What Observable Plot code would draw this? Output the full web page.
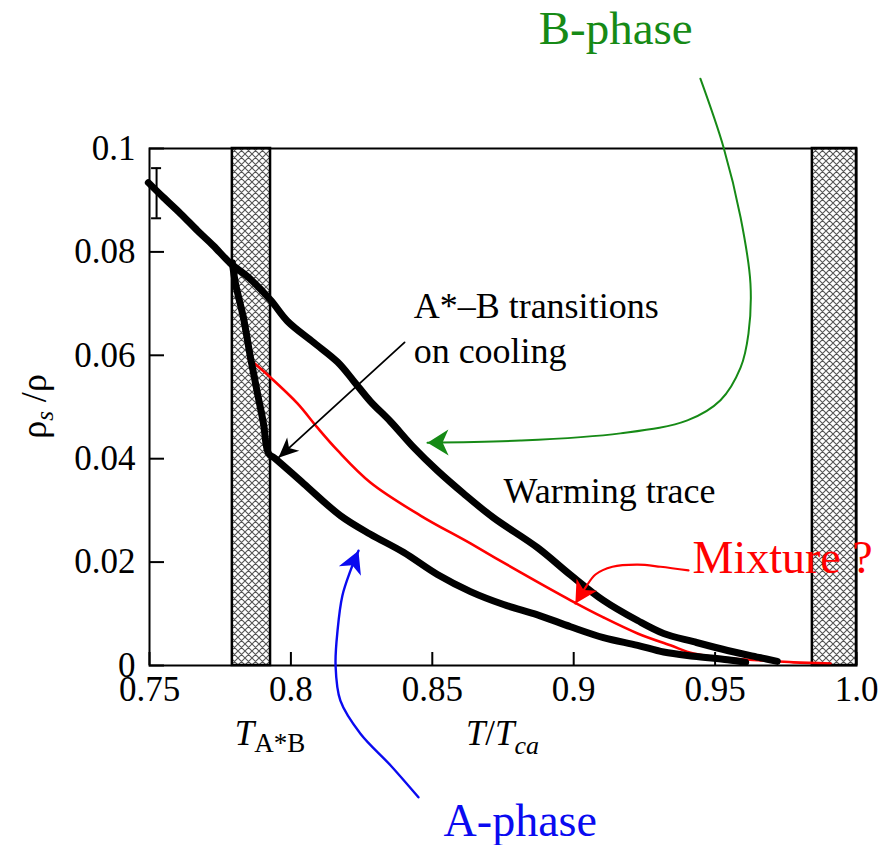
<!DOCTYPE html>
<html>
<head>
<meta charset="utf-8">
<script src="https://cdn.jsdelivr.net/npm/d3@7"></script>
<script src="https://cdn.jsdelivr.net/npm/@observablehq/plot@0.6"></script>
<style>
  html, body { margin: 0; padding: 0; background: #fff; }
  #chart svg { display: block; }
  #chart svg text { font-family: "Liberation Serif", "Times New Roman", Times, serif; }
</style>
</head>
<body>
<div id="chart"></div>
<script>
// Warming trace (B-phase branch): T/Tca and superfluid fraction rho_s/rho
const warmT = [0.7496, 0.7550, 0.7610, 0.7670, 0.7726, 0.7786, 0.7847, 0.7928, 0.7988, 0.8080,
  0.8165, 0.8221, 0.8281, 0.8352, 0.8434, 0.8518, 0.8610, 0.8716, 0.8872, 0.8989,
  0.9105, 0.9226, 0.9318, 0.9424, 0.9544, 0.9661, 0.9720];
const warmRho = [0.0934, 0.0905, 0.0874, 0.0841, 0.0812, 0.0778, 0.0752, 0.0707, 0.0666, 0.0625,
  0.0587, 0.0551, 0.0511, 0.0472, 0.0422, 0.0377, 0.0333, 0.0286, 0.0228, 0.0175,
  0.0126, 0.0087, 0.0062, 0.0046, 0.0029, 0.0015, 0.0008];

// Cooling branch: drop at the A*-B transition, then the A-phase trace
const coolT = [0.7793, 0.7804, 0.7832, 0.7857, 0.7882, 0.7903, 0.7921, 0.7945, 0.8045, 0.8175,
  0.8281, 0.8398, 0.8518, 0.8635, 0.8752, 0.8872, 0.8989, 0.9105, 0.9226, 0.9318,
  0.9424, 0.9544, 0.9608];
const coolRho = [0.0779, 0.0739, 0.0673, 0.0596, 0.0526, 0.0468, 0.0410, 0.0400, 0.0352, 0.0290,
  0.0254, 0.0219, 0.0176, 0.0143, 0.0118, 0.0098, 0.0075, 0.0054, 0.0039, 0.0026,
  0.0018, 0.0011, 0.0006];

// Mixture trace
const mixT = [0.7850, 0.7928, 0.8023, 0.8094, 0.8165, 0.8281, 0.8458, 0.8635, 0.8812, 0.8989,
  0.9105, 0.9226, 0.9342, 0.9424, 0.9544, 0.9661, 0.9777, 0.9908];
const mixRho = [0.0594, 0.0557, 0.0507, 0.0460, 0.0416, 0.0354, 0.0290, 0.0236, 0.0180, 0.0126,
  0.0093, 0.0062, 0.0039, 0.0023, 0.0014, 0.0010, 0.0006, 0.0004];

// Transition windows (hatched bands)
const bandStart = [0.7793, 0.9844];
const bandEnd = [0.7928, 1.0];

// Representative error bar
const errT = [0.7525];
const errLo = [0.0865];
const errHi = [0.0962];

// Axis ticks
const xTicks = [0.75, 0.8, 0.85, 0.9, 0.95, 1.0];
const xTickLabels = ["0.75", "0.8", "0.85", "0.9", "0.95", "1.0"];
const yTicks = [0, 0.02, 0.04, 0.06, 0.08, 0.1];
const yTickLabels = ["0", "0.02", "0.04", "0.06", "0.08", "0.1"];

// Annotation pointers
const greenT = [0.9448, 0.9530, 0.9590, 0.9625, 0.9618, 0.9590, 0.9519, 0.9402, 0.9165, 0.8812, 0.8483];
const greenRho = [0.1135, 0.1002, 0.0867, 0.0739, 0.0642, 0.0576, 0.0513, 0.0474, 0.0449, 0.0435, 0.0431];
const blueT = [0.8451, 0.8352, 0.8246, 0.8175, 0.8158, 0.8165, 0.8182, 0.8211, 0.8239];
const blueRho = [-0.0255, -0.0193, -0.0132, -0.0068, 0, 0.0068, 0.0135, 0.0184, 0.0222];
const redT = [0.9406, 0.9307, 0.9226, 0.9137, 0.9077, 0.9042, 0.9006];
const redRho = [0.0184, 0.0191, 0.0195, 0.0191, 0.0176, 0.0151, 0.0120];
const blackT = [0.8402, 0.7956];
const blackRho = [0.0625, 0.0402];

const zip = (xs, ys) => xs.map((x, i) => ({x, y: ys[i]}));
const serif = '"Liberation Serif", "Times New Roman", Times, serif';
const GREEN = "#168a16";
const BLUE = "#0a0af0";
const RED = "#ff0000";

const bands = bandStart.map((s, i) => ({x1: s, x2: bandEnd[i]}));
const errBars = errT.map((t, i) => ({t, lo: errLo[i], hi: errHi[i]}));

const plot = Plot.plot({
  width: 892,
  height: 845,
  marginLeft: 149,
  marginRight: 36,
  marginTop: 148,
  marginBottom: 180,
  style: {fontFamily: serif, background: "white", color: "black"},
  x: {domain: [0.75, 1.0]},
  y: {domain: [0, 0.1]},
  marks: [
    Plot.rect(bands, {x1: "x1", x2: "x2", y1: 0, y2: 0.1, fill: "url(#xhatch)", stroke: "black", strokeWidth: 2.5}),
    Plot.line(zip(mixT, mixRho), {x: "x", y: "y", stroke: RED, strokeWidth: 2.6, curve: "catmull-rom"}),
    Plot.line(zip(warmT, warmRho), {x: "x", y: "y", stroke: "black", strokeWidth: 7, curve: "catmull-rom", strokeLinejoin: "round", strokeLinecap: "round"}),
    Plot.line(zip(coolT, coolRho), {x: "x", y: "y", stroke: "black", strokeWidth: 7, curve: "catmull-rom", strokeLinejoin: "round", strokeLinecap: "round"}),
    Plot.ruleX(errBars, {x: "t", y1: "lo", y2: "hi", stroke: "black", strokeWidth: 2}),
    Plot.ruleY(errBars, {y: "lo", x1: "t", x2: "t", insetLeft: -5, insetRight: -5, stroke: "black", strokeWidth: 2}),
    Plot.ruleY(errBars, {y: "hi", x1: "t", x2: "t", insetLeft: -5, insetRight: -5, stroke: "black", strokeWidth: 2}),
    Plot.frame({stroke: "black", strokeWidth: 2}),
    // inward tick marks
    Plot.ruleX(xTicks, {x: (d) => d, y1: 0, y2: 0, insetTop: -13, stroke: "black", strokeWidth: 2}),
    Plot.ruleY(yTicks, {y: (d) => d, x1: 0.75, x2: 0.75, insetRight: -15, stroke: "black", strokeWidth: 2}),
    Plot.axisX({ticks: xTicks, tickSize: 0, tickPadding: 11, tickFormat: (d) => xTickLabels[xTicks.indexOf(d)], fontSize: 35, fontFamily: serif, label: null}),
    Plot.axisY({ticks: yTicks, tickSize: 0, tickPadding: 14, tickFormat: (d) => yTickLabels[yTicks.indexOf(d)], fontSize: 35, fontFamily: serif, label: null}),
    // annotation pointers
    Plot.line(zip(greenT, greenRho), {x: "x", y: "y", stroke: GREEN, strokeWidth: 2, curve: "catmull-rom", ariaDescription: "ptr-green"}),
    Plot.line(zip(blueT, blueRho), {x: "x", y: "y", stroke: BLUE, strokeWidth: 2.4, curve: "catmull-rom", ariaDescription: "ptr-blue"}),
    Plot.line(zip(redT, redRho), {x: "x", y: "y", stroke: RED, strokeWidth: 2.2, curve: "catmull-rom", ariaDescription: "ptr-red"}),
    Plot.line(zip(blackT, blackRho), {x: "x", y: "y", stroke: "black", strokeWidth: 1.8, ariaDescription: "ptr-black"}),
    // annotation text
    Plot.text(["A*\u2013B transitions\non cooling"], {x: 0.8434, y: 0.0586, text: (d) => d, textAnchor: "start", lineAnchor: "bottom", lineHeight: 1.25, fontSize: 36, fontFamily: serif, fill: "black"}),
    Plot.text(["Warming trace"], {x: 0.8752, y: 0.0315, text: (d) => d, textAnchor: "start", lineAnchor: "bottom", fontSize: 36, fontFamily: serif, fill: "black"}),
    Plot.text(["B-phase"], {x: 0.8876, y: 0.1203, text: (d) => d, textAnchor: "start", lineAnchor: "bottom", fontSize: 47, fontFamily: serif, fill: GREEN}),
    Plot.text(["A-phase"], {x: 0.8540, y: -0.0329, text: (d) => d, textAnchor: "start", lineAnchor: "bottom", fontSize: 46, fontFamily: serif, fill: BLUE}),
    Plot.text(["Mixture ?"], {x: 0.9420, y: 0.0178, text: (d) => d, textAnchor: "start", lineAnchor: "bottom", fontSize: 46, fontFamily: serif, fill: RED})
  ]
});

const svg = d3.select(plot);
const defs = svg.insert("defs", ":first-child");

// cross-hatch fill for the transition windows
const pat = defs.append("pattern")
  .attr("id", "xhatch")
  .attr("patternUnits", "userSpaceOnUse")
  .attr("width", 7).attr("height", 7);
pat.append("rect").attr("width", 7).attr("height", 7).attr("fill", "white");
pat.append("path").attr("d", "M0,0L7,7M7,0L0,7M-1,6L1,8M6,-1L8,1")
  .attr("stroke", "#555").attr("stroke-width", 1.1).attr("fill", "none");

// filled, notched arrowheads for the pointers
function arrowHead(id, color, len, half) {
  defs.append("marker")
    .attr("id", id)
    .attr("markerUnits", "userSpaceOnUse")
    .attr("orient", "auto")
    .attr("viewBox", `${-len - 1} ${-half - 1} ${len + 2} ${2 * half + 2}`)
    .attr("markerWidth", len + 2)
    .attr("markerHeight", 2 * half + 2)
    .attr("refX", 0).attr("refY", 0)
    .append("path")
    .attr("d", `M0,0L${-len},${-half}L${-len * 0.72},0L${-len},${half}Z`)
    .attr("fill", color);
}
arrowHead("head-green", GREEN, 21, 13);
arrowHead("head-blue", BLUE, 22, 12);
arrowHead("head-red", RED, 22, 12);
arrowHead("head-black", "black", 20, 9);
[["ptr-green", "head-green"], ["ptr-blue", "head-blue"], ["ptr-red", "head-red"], ["ptr-black", "head-black"]]
  .forEach(([g, m]) => svg.selectAll(`g[aria-description="${g}"] path`).attr("marker-end", `url(#${m})`));

// axis titles with italic and subscript parts
const sx = plot.scale("x");
const sy = plot.scale("y");
const x0 = sx.apply(sx.domain[0]), x1 = sx.apply(sx.domain[1]);
const yBottom = sy.apply(sy.domain[0]), yTop = sy.apply(sy.domain[1]);

const xt = svg.append("text")
  .attr("x", (x0 + x1) / 2).attr("y", yBottom + 80)
  .attr("text-anchor", "middle").attr("font-size", 35).attr("font-family", serif);
xt.append("tspan").attr("font-style", "italic").text("T");
xt.append("tspan").text("/");
xt.append("tspan").attr("font-style", "italic").text("T");
xt.append("tspan").attr("font-style", "italic").attr("font-size", 26).attr("dy", 9).text("ca");

const tb = svg.append("text")
  .attr("x", sx.apply(bandEnd[0])).attr("y", yBottom + 80)
  .attr("text-anchor", "middle").attr("font-size", 35).attr("font-family", serif);
tb.append("tspan").attr("font-style", "italic").text("T");
tb.append("tspan").attr("font-size", 27).attr("dy", 7).text("A*B");

const yt = svg.append("text")
  .attr("transform", `translate(46,${(yBottom + yTop) / 2}) rotate(-90)`)
  .attr("text-anchor", "middle").attr("font-size", 36).attr("font-family", serif);
yt.append("tspan").text("\u03c1");
yt.append("tspan").attr("font-style", "italic").attr("font-size", 25).attr("dy", 7).text("s");
yt.append("tspan").attr("dy", -7).text(" /\u03c1");

document.getElementById("chart").appendChild(plot);
</script>
</body>
</html>
